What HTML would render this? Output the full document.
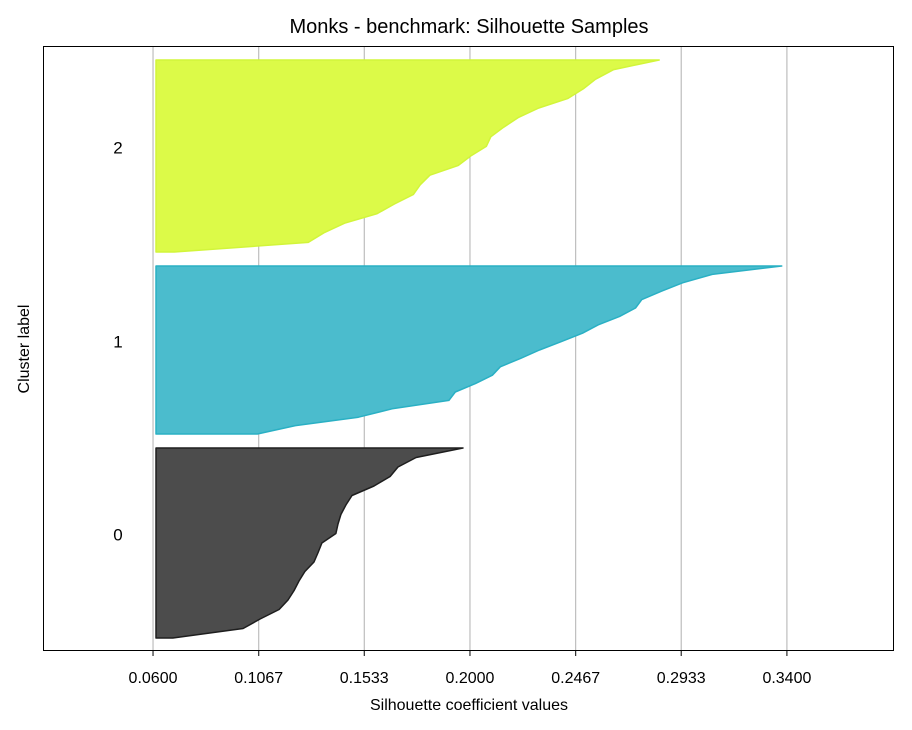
<!DOCTYPE html>
<html><head><meta charset="utf-8"><style>
body{margin:0;background:#fff;}
svg{display:block;font-family:"Liberation Sans","DejaVu Sans",sans-serif;}
</style></head><body>
<svg id="chart" width="912" height="730"></svg>
<script>
const clusterLabels = ["0","1","2"];
const clusterSizes = [190,168,192];
const cluster0Values = [0.0688,0.0998,0.1073,0.1157,0.1196,0.1223,0.1245,0.1271,0.1311,0.1329,0.1346,0.1408,0.1417,0.1430,0.1452,0.1479,0.1576,0.1647,0.1682,0.1762,0.1969];
const cluster1Values = [0.1061,0.1229,0.1507,0.1656,0.1907,0.1935,0.2024,0.2099,0.2134,0.2223,0.2307,0.2404,0.2497,0.2567,0.2661,0.2731,0.2759,0.2846,0.2939,0.3070,0.3377];
const cluster2Values = [0.0694,0.1286,0.1355,0.1446,0.1590,0.1666,0.1750,0.1780,0.1823,0.1947,0.2003,0.2072,0.2092,0.2149,0.2213,0.2304,0.2433,0.2501,0.2555,0.2635,0.2836];
const xTicks = [0.06,0.1067,0.1533,0.2,0.2467,0.2933,0.34];
const xTickLabels = ["0.0600","0.1067","0.1533","0.2000","0.2467","0.2933","0.3400"];

const NS="http://www.w3.org/2000/svg";
const svg=document.getElementById('chart');
const L=43,R=894,T=46,B=651;
const xMin=0.0114,xMax=0.3873,yMin=0,yMax=605;
const baseline=0.0613, gap=14, yStart=13;
const fills=["#4c4c4c","#4bbccd","#dcfa48"];
const strokes=["#1e1e1e","#2ab0c4","#d2f53a"];
function X(v){return L+(v-xMin)/(xMax-xMin)*(R-L);}
function Y(v){return B-(v-yMin)/(yMax-yMin)*(B-T);}
function mk(tag,attrs,parent){const e=document.createElementNS(NS,tag);for(const k in attrs)e.setAttribute(k,attrs[k]);(parent||svg).appendChild(e);return e;}

const bg=mk('rect',{x:L,y:T,width:R-L,height:B-T,fill:'#fff'});



xTicks.forEach((t,i)=>{
  const g=mk('line',{x1:X(t),x2:X(t),y1:T,y2:B,stroke:'#b0b0b0','stroke-width':1});
  
  
});

const allVals=[cluster0Values,cluster1Values,cluster2Values];
let y0=yStart;
allVals.forEach((vals,c)=>{
  const size=clusterSizes[c];
  const n=vals.length;
  let pts=[[X(baseline),Y(y0)]];
  vals.forEach((v,i)=>{pts.push([X(v),Y(y0+size*i/(n-1))]);});
  pts.push([X(baseline),Y(y0+size)]);
  const p=mk('polygon',{points:pts.map(p=>p[0].toFixed(1)+','+p[1].toFixed(1)).join(' '),fill:fills[c],stroke:strokes[c],'stroke-width':1.5,'stroke-linejoin':'round'});
  
  
  const lab=mk('text',{x:118,y:Y(y0+size/2)-7,'font-size':17,'text-anchor':'middle','dominant-baseline':'middle',fill:'#000'});
  lab.textContent=clusterLabels[c];
  
  
  y0+=size+gap;
});

const fr=mk('rect',{x:L+0.5,y:T+0.5,width:R-L-1,height:B-T-1,fill:'none',stroke:'#000','stroke-width':1});



xTicks.forEach((t,i)=>{
  const tk=mk('line',{x1:X(t),x2:X(t),y1:B,y2:B+5,stroke:'#000','stroke-width':1});
  
  
  const tl=mk('text',{x:X(t),y:683,'font-size':16,'text-anchor':'middle',fill:'#000'});
  tl.textContent=xTickLabels[i];
  
  
});

const title=mk('text',{x:469,y:33,'font-size':20,'text-anchor':'middle',fill:'#000'});
title.textContent='Monks - benchmark: Silhouette Samples';



const xt=mk('text',{x:469,y:710,'font-size':16,'text-anchor':'middle',fill:'#000'});
xt.textContent='Silhouette coefficient values';



const yt=mk('text',{x:0,y:0,'font-size':16,'text-anchor':'middle',fill:'#000',transform:'translate(29,349) rotate(-90)'});
yt.textContent='Cluster label';


</script>
</body></html>
